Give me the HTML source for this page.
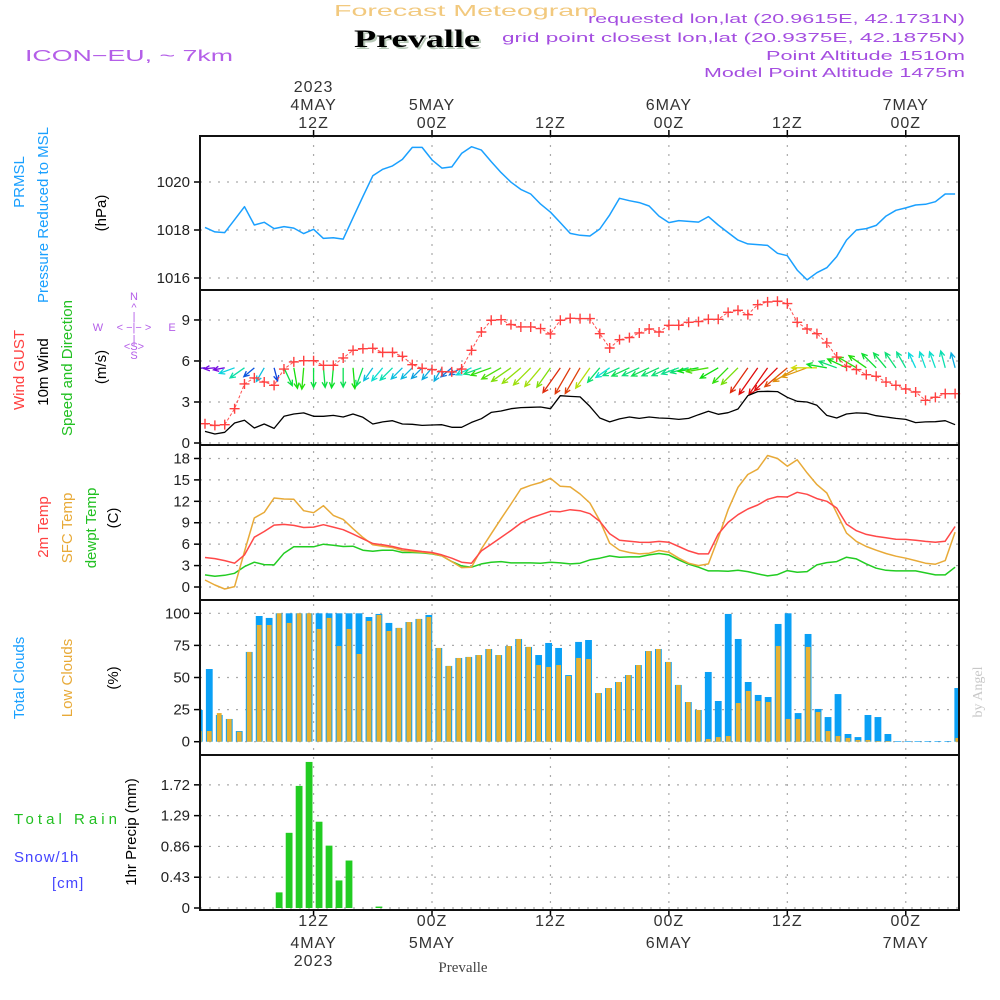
<!DOCTYPE html>
<html><head><meta charset="utf-8"><title>Forecast Meteogram Prevalle</title>
<style>
html,body{margin:0;padding:0;background:#fff;}
svg{display:block;font-family:"Liberation Sans",sans-serif;}
</style></head>
<body>
<svg id="chart" width="1000" height="1000" viewBox="0 0 1000 1000">
<rect x="0" y="0" width="1000" height="1000" fill="#fff"/>
<text x="334" y="16" font-size="16" fill="#f2c97e" textLength="264" lengthAdjust="spacingAndGlyphs">Forecast Meteogram</text>
<text x="356" y="49" font-size="25" font-weight="bold" font-family="Liberation Serif, serif" fill="#b8c8b8" textLength="126" lengthAdjust="spacingAndGlyphs">Prevalle</text>
<text x="354" y="47" font-size="25" font-weight="bold" font-family="Liberation Serif, serif" fill="#000" textLength="126" lengthAdjust="spacingAndGlyphs">Prevalle</text>
<text x="25" y="61" font-size="16" fill="#b45ee8" textLength="208" lengthAdjust="spacingAndGlyphs">ICON−EU, ~ 7km</text>
<g font-size="13" fill="#a44ee0" text-anchor="end">
<text x="965" y="23" textLength="377" lengthAdjust="spacingAndGlyphs">requested lon,lat (20.9615E, 42.1731N)</text>
<text x="965" y="42" textLength="463" lengthAdjust="spacingAndGlyphs">grid point closest lon,lat (20.9375E, 42.1875N)</text>
<text x="965" y="60" textLength="199" lengthAdjust="spacingAndGlyphs">Point Altitude 1510m</text>
<text x="965" y="77" textLength="261" lengthAdjust="spacingAndGlyphs">Model Point Altitude 1475m</text>
</g>
<g id="grid"></g>
<g id="marks"></g>
<g id="frames"></g>
<g id="labels" font-size="15" fill="#222"></g>
<g font-size="15">
<text transform="translate(24,182) rotate(-90)" text-anchor="middle" fill="#1aa0ff">PRMSL</text>
<text transform="translate(48,215) rotate(-90)" text-anchor="middle" fill="#1aa0ff">Pressure Reduced to MSL</text>
<text transform="translate(106,213) rotate(-90)" text-anchor="middle" fill="#000">(hPa)</text>
<text transform="translate(24,370) rotate(-90)" text-anchor="middle" fill="#ff4040">Wind GUST</text>
<text transform="translate(48,372) rotate(-90)" text-anchor="middle" fill="#000">10m Wind</text>
<text transform="translate(72,368) rotate(-90)" text-anchor="middle" fill="#22c022">Speed and Direction</text>
<text transform="translate(106,367) rotate(-90)" text-anchor="middle" fill="#000">(m/s)</text>
<text transform="translate(48,527) rotate(-90)" text-anchor="middle" fill="#ff4040">2m Temp</text>
<text transform="translate(72,528) rotate(-90)" text-anchor="middle" fill="#e8aa38">SFC Temp</text>
<text transform="translate(96,528) rotate(-90)" text-anchor="middle" fill="#22c022">dewpt Temp</text>
<text transform="translate(118,518) rotate(-90)" text-anchor="middle" fill="#000">(C)</text>
<text transform="translate(24,678) rotate(-90)" text-anchor="middle" fill="#1aa0ff">Total Clouds</text>
<text transform="translate(72,678) rotate(-90)" text-anchor="middle" fill="#e8aa38">Low Clouds</text>
<text transform="translate(118,678) rotate(-90)" text-anchor="middle" fill="#000">(%)</text>
<text x="14" y="824" fill="#22c022" textLength="103" lengthAdjust="spacing">Total  Rain</text>
<text x="14" y="862" fill="#4444ff" letter-spacing="1">Snow/1h</text>
<text x="52" y="888" fill="#4444ff" letter-spacing="1">[cm]</text>
<text transform="translate(136,832) rotate(-90)" text-anchor="middle" fill="#000">1hr Precip (mm)</text>
</g>
<g font-size="11" fill="#b45ee8">
<text x="134" y="300" text-anchor="middle">N</text>
<text x="134" y="311" text-anchor="middle">^</text>
<text x="134" y="320" text-anchor="middle">|</text>
<text x="98" y="331" text-anchor="middle">W</text>
<text x="134" y="331" text-anchor="middle">&lt; −|− &gt;</text>
<text x="172" y="331" text-anchor="middle">E</text>
<text x="134" y="343" text-anchor="middle">|</text>
<text x="134" y="350" text-anchor="middle">&lt;S&gt;</text>
<text x="134" y="359" text-anchor="middle">S</text>
</g>
<text transform="translate(982,692) rotate(-90)" text-anchor="middle" font-size="14" font-family="Liberation Serif, serif" fill="#c8c8c8">by Angel</text>
<text x="463" y="972" text-anchor="middle" font-size="15" font-family="Liberation Serif, serif" fill="#444">Prevalle</text>
</svg>
<script>
const pressure = [1018.11,1017.92,1017.89,1018.43,1018.97,1018.21,1018.32,1018.06,1018.14,1018.08,1017.85,1018.03,1017.65,1017.68,1017.62,1018.51,1019.39,1020.26,1020.53,1020.67,1020.94,1021.44,1021.44,1020.92,1020.58,1020.63,1021.19,1021.47,1021.33,1020.85,1020.39,1019.99,1019.69,1019.5,1019.08,1018.74,1018.31,1017.86,1017.78,1017.75,
1018.04,1018.63,1019.32,1019.22,1019.14,1019.0,1018.58,1018.31,1018.39,1018.36,1018.33,1018.56,1018.21,1017.89,1017.58,1017.42,1017.39,1017.36,1017.03,1016.93,1016.33,1015.92,1016.22,1016.43,1016.89,1017.58,1018.0,1018.06,1018.19,1018.58,1018.82,1018.92,1019.04,1019.07,1019.18,1019.5,1019.5];
const gust = [1.41,1.29,1.34,2.51,4.32,4.76,4.46,4.22,5.41,5.93,6.02,6.02,5.68,5.68,6.22,6.78,6.9,6.93,6.63,6.63,6.34,5.73,5.46,5.37,5.22,5.2,5.41,6.78,8.12,8.98,9.02,8.66,8.49,8.49,8.37,7.98,8.98,9.12,9.1,9.1,
8.0,6.95,7.56,7.71,8.05,8.34,8.12,8.61,8.61,8.83,8.88,9.05,9.05,9.56,9.71,9.39,10.12,10.32,10.37,10.2,8.83,8.34,8.0,7.32,6.29,5.61,5.37,5.0,4.88,4.46,4.22,3.95,3.73,3.12,3.34,3.61,3.61];
const windSpeed = [0.85,0.66,0.78,1.46,1.66,1.1,1.39,1.07,1.95,2.12,2.2,1.95,1.95,2.02,1.9,2.12,1.88,1.39,1.54,1.63,1.39,1.37,1.29,1.32,1.34,1.15,1.15,1.51,1.78,2.24,2.34,2.51,2.59,2.61,2.63,2.51,3.46,3.41,3.37,
2.68,1.83,1.54,1.76,1.9,1.8,1.9,1.83,1.8,1.73,1.8,2.07,2.32,2.1,2.22,2.49,3.46,3.76,3.78,3.76,3.34,3.05,3.0,2.76,2.02,1.83,2.12,2.2,2.17,2.0,1.9,1.8,1.73,1.49,1.54,1.56,1.63,1.34];
const windDir = [85,85,80,70,55,50,30,345,335,350,5,0,355,5,0,355,20,35,40,45,45,45,45,40,30,50,60,65,70,70,60,55,50,45,40,35,35,30,30,35,40,55,65,65,65,65,65,65,70,75,80,80,60,45,45,35,35,35,45,50,60,70,90,100,110,115,120,125,135,140,145,150,155,160,160,165,165];
const temp2m = [4.13,3.98,3.7,3.33,4.5,6.98,7.78,8.67,8.77,8.63,8.34,8.39,8.72,8.39,8.02,7.41,6.75,6.09,5.91,5.67,5.34,5.16,4.97,4.83,4.5,4.03,3.47,3.33,5.06,6.0,6.94,7.92,8.95,9.66,10.13,10.6,10.55,10.83,10.69,
10.27,9.19,7.45,6.56,6.42,6.28,6.24,6.38,6.28,5.67,5.06,4.64,4.64,7.41,9.05,10.13,10.92,11.49,12.28,12.66,12.61,13.27,12.98,12.38,12.0,11.06,8.81,7.88,7.36,7.08,6.89,6.7,6.66,6.56,6.38,6.28,6.42,8.48];
const tempSfc = [0.98,0.28,-0.28,0.05,4.97,9.66,10.45,12.47,12.33,12.28,10.69,10.41,11.39,10.03,9.47,8.16,6.94,5.91,5.72,5.53,5.11,4.97,4.88,4.69,4.36,3.56,2.72,2.77,5.34,7.45,9.56,11.63,13.73,14.25,14.63,15.23,14.11,14.02,13.03,
11.77,9.28,6.14,5.16,4.83,4.64,4.73,5.11,4.88,4.03,3.33,3.0,3.23,6.84,10.83,13.97,15.75,16.5,18.42,18.0,16.92,17.81,15.98,14.34,13.17,10.36,7.55,6.38,5.67,5.16,4.69,4.31,4.03,3.7,3.33,3.19,3.7,7.69];
const dewpt = [1.69,1.5,1.64,1.92,2.86,3.47,3.14,3.09,4.73,5.63,5.63,5.63,6.0,5.86,5.67,5.72,5.16,5.02,5.16,5.16,4.83,4.83,4.78,4.64,4.36,3.56,2.95,2.77,3.23,3.47,3.56,3.38,3.38,3.38,3.33,3.47,3.38,3.23,3.33,
3.8,4.03,4.36,4.17,4.22,4.22,4.5,4.69,4.5,3.8,3.19,2.77,2.25,2.25,2.2,2.34,2.16,1.83,1.55,1.73,2.3,2.06,2.16,3.09,3.42,3.56,4.17,3.94,3.23,2.63,2.34,2.25,2.25,2.25,1.97,1.69,1.69,2.77];
const totalClouds = [24.7,56.6,20.8,17.7,8.3,69.9,97.9,96.4,100,100,100,100,100,100,100,100,100,97.1,99.5,92.5,88.6,93.2,95.6,98.7,73,59,65.2,66,67.5,72.2,67.5,74.5,80,73.8,67.5,76.9,73,51.9,77.7,79.2,37.9,41.8,46.5,51.9,59.7,70.6,72.2,62.1,44.2,30.9,24.7,54.3,31.7,99.5,80,46.5,36.4,34.8,91.7,100,22.3,83.9,25.5,19.2,37.1,6,3.6,20.8,19.2,6,0.5,0.5,0.5,0.5,0.5,0.5,41.8];
const lowClouds = [8.3,8.3,22.3,17.7,7.8,69.9,90.9,90.9,100,92.5,100,100,87.8,96.4,74.5,87.8,68.3,94,98.7,86.2,88.6,93.2,95.6,97.1,73,59,65.2,66,67.5,72.2,67.5,74.5,80,73.8,59.7,58.2,59.7,51.2,65.2,64.4,37.9,41.8,46.5,51.9,59.7,70.6,72.2,62.1,44.2,30.9,24.7,2.1,3.6,4.4,30.1,39.5,31.7,30.9,74.5,17.7,17.7,73.8,23.1,8.3,4.4,2.9,1.3,1.3,0.5,0.5,0,0,0,0,0,0,2.9];
const precip = [0,0,0,0,0,0,0,0,0.218,1.05,1.705,2.04,1.205,0.871,0.385,0.663,0,0,0.02,0,0,0,0,0,0,0,0,0,0,0,0,0,0,0,0,0,0,0,0,0,0,0,0,0,0,0,0,0,0,0,0,0,0,0,0,0,0,0,0,0,0,0,0,0,0,0,0,0,0,0,0,0,0,0,0,0,0];
const pressTicks = [1016,1018,1020];
const windTicks = [0,3,6,9];
const tempTicks = [0,3,6,9,12,15,18];
const cloudTicks = [0,25,50,75,100];
const precipTicks = [0,0.43,0.86,1.29,1.72];
const timeIdx = [11,23,35,47,59,71];
const timeHour = ["12Z","00Z","12Z","00Z","12Z","00Z"];
const timeDay = ["4MAY","5MAY","","6MAY","","7MAY"];
const timeYear = ["2023","","","","",""];

const NS="http://www.w3.org/2000/svg";
const X0=200,X1=959;
const P=[[136,290],[290,445],[445,600],[600,755],[755,910]];
function xS(i){return 205+i*9.87;}
function xB(i){return 199.3+i*9.98;}
function yP(v){return 182-(v-1020)*24;}
function yW(v){return 443-v*13.67;}
function yT(v){return 587-v*7.14;}
function yC(v){return 741.7-v*1.284;}
function yR(v){return 908-v*71.6;}
function mk(tag,attrs,parent){const e=document.createElementNS(NS,tag);for(const k in attrs)e.setAttribute(k,attrs[k]);parent.appendChild(e);return e;}
const grid=document.getElementById('grid'),marks=document.getElementById('marks'),frames=document.getElementById('frames'),labels=document.getElementById('labels');

function hTicks(ticks,yf,fmt,name){
  ticks.forEach(t=>{
    const y=yf(t);
    const g=mk('line',{x1:X0,x2:X1,y1:y,y2:y,stroke:'#aaa','stroke-width':1.2,'stroke-dasharray':'2,7'},grid);
    
    
    const tk=mk('line',{x1:X0-6,x2:X0,y1:y,y2:y,stroke:'#000','stroke-width':1.5},frames);
    
    
    const tx=mk('text',{x:X0-10,y:y+5,'text-anchor':'end'},labels);
    tx.textContent=fmt(t);
    
    
  });
}
hTicks(pressTicks,yP,t=>String(t),'pressure-y');
hTicks(windTicks,yW,t=>String(t),'wind-y');
hTicks(tempTicks,yT,t=>String(t),'temp-y');
hTicks(cloudTicks,yC,t=>String(t),'cloud-y');
hTicks(precipTicks,yR,t=>t===0?'0':t.toFixed(2),'precip-y');

timeIdx.forEach((ti,k)=>{
  const x=xS(ti);
  const v=mk('line',{x1:x,x2:x,y1:136,y2:910,stroke:'#aaa','stroke-width':1.2,'stroke-dasharray':'2,7'},grid);
  
  
  mk('line',{x1:x,x2:x,y1:130,y2:136,stroke:'#000','stroke-width':1.5},frames);
  mk('line',{x1:x,x2:x,y1:910,y2:916,stroke:'#000','stroke-width':1.5},frames);
  const top=[timeYear[k],timeDay[k],timeHour[k]];
  const ys=[92,110,128];
  top.forEach((s,j)=>{ if(!s)return;
    const t=mk('text',{x:x,y:ys[j],'text-anchor':'middle','font-size':16,fill:'#333','letter-spacing':'1'},labels);
    t.textContent=s;
    
    
  });
  const bot=[timeHour[k],timeDay[k],timeYear[k]];
  const yb=[926,948,966];
  bot.forEach((s,j)=>{ if(!s)return;
    const t=mk('text',{x:x,y:yb[j],'text-anchor':'middle','font-size':16,fill:'#333','letter-spacing':'1'},labels);
    t.textContent=s;
    
    
  });
});

function line(arr,xf,yf,color,name,w){
  const d=arr.map((v,i)=>(i?'L':'M')+xf(i).toFixed(1)+','+yf(v).toFixed(1)).join(' ');
  const p=mk('path',{d:d,fill:'none',stroke:color,'stroke-width':w||1.5,'stroke-linejoin':'round'},marks);
  
  
  return p;
}
function clipFor(id,y0,y1){
  let defs=document.getElementById('defs');
  if(!defs){defs=mk('defs',{id:'defs'},document.getElementById('chart'));}
  const c=mk('clipPath',{id:id},defs);
  mk('rect',{x:X0,y:y0,width:X1-X0,height:y1-y0},c);
}
clipFor('c1',136,290);clipFor('c2',290,445);clipFor('c3',445,600);clipFor('c4',600,755);clipFor('c5',755,910);

line(pressure,xS,yP,'#1aa0ff','pressure-line',1.5);

const gW=mk('g',{'clip-path':'url(#c2)'},marks);
const hueStops=[[0.8,270],[1.15,210],[1.5,180],[2.1,120],[2.6,80],[3.0,40],[3.6,0]];
function hueFor(s){
  if(s<=hueStops[0][0])return hueStops[0][1];
  for(let k=1;k<hueStops.length;k++){
    const a=hueStops[k-1],b=hueStops[k];
    if(s<=b[0])return a[1]+(b[1]-a[1])*(s-a[0])/(b[0]-a[0]);
  }
  return 0;
}
windSpeed.forEach((s,i)=>{
  const x=xS(i),y=yW(5.5);
  const L=6+7*s,d=windDir[i]*Math.PI/180;
  const dx=-Math.sin(d)*L,dy=Math.cos(d)*L;
  const col='hsl('+hueFor(s).toFixed(0)+',90%,46%)';
  const hx=x+dx,hy=y+dy;
  const a=Math.atan2(-dy,-dx);
  const h1x=hx+6*Math.cos(a+0.45),h1y=hy+6*Math.sin(a+0.45);
  const h2x=hx+6*Math.cos(a-0.45),h2y=hy+6*Math.sin(a-0.45);
  const p=mk('path',{d:`M${x},${y} L${hx},${hy} M${h1x},${h1y} L${hx},${hy} L${h2x},${h2y}`,stroke:col,'stroke-width':1.3,fill:'none'},gW);
  
  
});
line(windSpeed,xS,yW,'#000','wind-speed-line',1.3);
line(gust,xS,yW,'#ff5050','wind-gust-line',1).setAttribute('stroke-dasharray','3,2');
gust.forEach((v,i)=>{
  const x=xS(i),y=yW(v);
  const p=mk('path',{d:`M${x-5},${y} L${x+5},${y} M${x},${y-5} L${x},${y+5}`,stroke:'#ff4040','stroke-width':1.4},marks);
  
  
});

line(dewpt,xS,yT,'#22cc22','dewpoint-line',1.5);
line(tempSfc,xS,yT,'#e8aa38','sfc-temp-line',1.5);
line(temp2m,xS,yT,'#ff4848','temp-2m-line',1.5);

const gC=mk('g',{'clip-path':'url(#c4)'},marks);
totalClouds.forEach((v,i)=>{
  const x=xB(i),y=yC(v);
  const r=mk('rect',{x:x-3.4,y:y,width:6.8,height:yC(0)-y,fill:'#0aa0f5'},gC);
  
  
  const lv=lowClouds[i],ly=yC(lv);
  const r2=mk('rect',{x:x-2.4,y:ly,width:4.8,height:yC(0)-ly,fill:'#e8b030'},gC);
  
  
});

const gR=mk('g',{'clip-path':'url(#c5)'},marks);
precip.forEach((v,i)=>{
  if(v<=0)return;
  const x=xB(i),y=yR(v);
  const r=mk('rect',{x:x-3.4,y:y,width:6.8,height:yR(0)-y,fill:'#22cc22'},gR);
  
  
});

P.forEach((p,k)=>{
  const r=mk('rect',{x:X0,y:p[0],width:X1-X0,height:p[1]-p[0],fill:'none',stroke:'#111','stroke-width':2},frames);
  
  
});
</script>
</body></html>
